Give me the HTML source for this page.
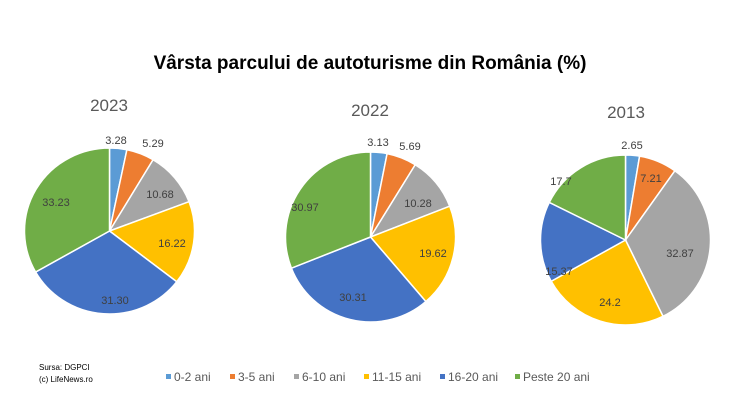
<!DOCTYPE html><html><head><style>body{margin:0;background:#fff}svg{display:block}text{font-family:"Liberation Sans",sans-serif}</style></head><body>
<svg id="s" width="747" height="420" xmlns="http://www.w3.org/2000/svg">
<text x="370" y="69" text-anchor="middle" font-size="19" font-weight="bold" fill="#000">Vârsta parcului de autoturisme din România (%)</text>
<text x="109" y="111" text-anchor="middle" font-size="17" fill="#595959">2023</text>
<text x="370" y="116" text-anchor="middle" font-size="17" fill="#595959">2022</text>
<text x="626" y="118" text-anchor="middle" font-size="17" fill="#595959">2013</text>
<g id="pies"></g>
<g font-size="11" fill="#404040" text-anchor="middle">
<text x="116" y="144">3.28</text><text x="153" y="147">5.29</text><text x="160" y="198">10.68</text><text x="172" y="247">16.22</text><text x="115" y="304">31.30</text><text x="56" y="206">33.23</text>
<text x="378" y="146">3.13</text><text x="410" y="150">5.69</text><text x="418" y="207">10.28</text><text x="433" y="257">19.62</text><text x="353" y="301">30.31</text><text x="305" y="211">30.97</text>
<text x="632" y="149">2.65</text><text x="651" y="182">7.21</text><text x="680" y="257">32.87</text><text x="610" y="306">24.2</text><text x="559" y="275">15.37</text><text x="561" y="185">17.7</text>
</g>
<text x="39" y="370" font-size="8" fill="#000">Sursa: DGPCI</text>
<text x="39" y="382" font-size="8" fill="#000">(c) LifeNews.ro</text>
<g font-size="12" fill="#595959">
<rect x="166" y="374" width="5" height="5" fill="#5B9BD5"/><text x="174" y="381">0-2 ani</text>
<rect x="230" y="374" width="5" height="5" fill="#ED7D31"/><text x="238" y="381">3-5 ani</text>
<rect x="294" y="374" width="5" height="5" fill="#A5A5A5"/><text x="302" y="381">6-10 ani</text>
<rect x="364" y="374" width="5" height="5" fill="#FFC000"/><text x="372" y="381">11-15 ani</text>
<rect x="440" y="374" width="5" height="5" fill="#4472C4"/><text x="448" y="381">16-20 ani</text>
<rect x="515" y="374" width="5" height="5" fill="#70AD47"/><text x="523" y="381">Peste 20 ani</text>
</g>
</svg>
<script>
var C=["#5B9BD5","#ED7D31","#A5A5A5","#FFC000","#4472C4","#70AD47"];
var P=[[109.5,231,85,83,[3.28,5.29,10.68,16.22,31.30,33.23]],[370.5,237,85,85,[3.13,5.69,10.28,19.62,30.31,30.97]],[625.5,240,85,85,[2.65,7.21,32.87,24.2,15.37,17.7]]];
var g=document.getElementById("pies"),h="";
P.forEach(function(p){var t=p[4].reduce(function(a,b){return a+b},0),a=0;p[4].forEach(function(v,i){var a2=a+v/t*2*Math.PI;
var x1=p[0]+p[2]*Math.sin(a),y1=p[1]-p[3]*Math.cos(a),x2=p[0]+p[2]*Math.sin(a2),y2=p[1]-p[3]*Math.cos(a2);
h+='<path d="M'+p[0]+','+p[1]+'L'+x1+','+y1+'A'+p[2]+','+p[3]+' 0 '+((a2-a)>Math.PI?1:0)+' 1 '+x2+','+y2+'Z" fill="'+C[i]+'" stroke="#fff" stroke-width="1.5"/>';a=a2;});});
g.innerHTML=h;
</script>
</body></html>
